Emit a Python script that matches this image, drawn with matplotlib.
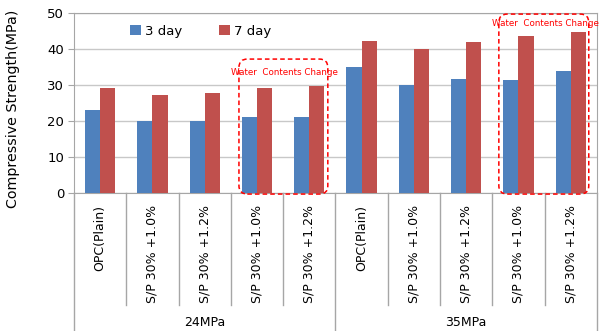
import matplotlib.pyplot as plt
import numpy as np
from matplotlib.patches import FancyBboxPatch

categories = ["OPC(Plain)", "S/P 30% +1.0%", "S/P 30% +1.2%", "S/P 30% +1.0%", "S/P 30% +1.2%",
              "OPC(Plain)", "S/P 30% +1.0%", "S/P 30% +1.2%", "S/P 30% +1.0%", "S/P 30% +1.2%"]
groups = ["24MPa", "35MPa"]
day3 = [23.0, 19.9, 19.9, 21.1, 21.1, 35.0, 30.0, 31.7, 31.3, 34.0]
day7 = [29.1, 27.1, 27.7, 29.3, 29.7, 42.3, 39.9, 41.9, 43.6, 44.6]

blue = "#4F81BD"
red = "#C0504D"
line_gray = "#A6A6A6"

fig = plt.figure(figsize=(6.09, 3.31), dpi=100)
ax = fig.add_axes([0.1215, 0.417, 0.8585, 0.5437])

x = np.arange(len(categories))
w = 0.29
ax.bar(x - w / 2, day3, w, color=blue, label="3 day", zorder=3)
ax.bar(x + w / 2, day7, w, color=red, label="7 day", zorder=3)

ax.set_xlim(-0.5, len(categories) - 0.5)
ax.set_ylim(0, 50)
ax.set_yticks([0, 10, 20, 30, 40, 50])
ax.tick_params(axis="y", labelsize=9.5, length=4, color=line_gray, pad=3)
ax.set_xticks([])
ax.grid(axis="y", color="#C8C8C8", linewidth=1, zorder=0)
for s in ax.spines.values():
    s.set_color(line_gray)
ax.set_ylabel("Compressive Strength(MPa)", fontsize=10.3)
ax.yaxis.set_label_coords(-0.103, 0.467)

ax.legend(loc="upper left", bbox_to_anchor=(0.085, 1.0), ncol=2, frameon=False,
          fontsize=9.5, handlelength=0.8, handleheight=0.8, handletextpad=0.3,
          columnspacing=2.8)

# category table under the axis
trans = ax.get_xaxis_transform()
for i in range(len(categories) + 1):
    if i % 5 == 0:
        y_end = -0.77
    else:
        y_end = -0.62
    ax.plot([i - 0.5, i - 0.5], [0, y_end], transform=trans, color=line_gray,
            linewidth=1, clip_on=False)
for i, lab in enumerate(categories):
    ax.text(i, -0.065, lab, transform=trans, rotation=90, ha="center", va="top",
            fontsize=9)
for g, lab in enumerate(groups):
    ax.text(g * 5 + 2, -0.72, lab, transform=trans, ha="center", va="center",
            fontsize=9)

# dashed boxes around the water-content mixes
aspect = (52.3 / 3.6)
boxes = [(2.655, -0.3, 1.70, 37.5), (7.626, -0.3, 1.72, 50.0)]
for bx, by, bw, bh in boxes:
    p = FancyBboxPatch((bx, by), bw, bh, boxstyle="round,pad=0,rounding_size=0.16",
                       mutation_aspect=aspect, fill=False, edgecolor="#FF0000",
                       linestyle=(0, (3, 2)), linewidth=1.1, clip_on=False, zorder=4)
    ax.add_patch(p)
ax.text(3.52, 33.6, "Water  Contents Change", color="#FF0000", fontsize=6.3,
        ha="center", va="center", zorder=5)
ax.text(8.52, 47.2, "Water  Contents Change", color="#FF0000", fontsize=6.3,
        ha="center", va="center", zorder=5)

fig.savefig("out.png", dpi=100)
